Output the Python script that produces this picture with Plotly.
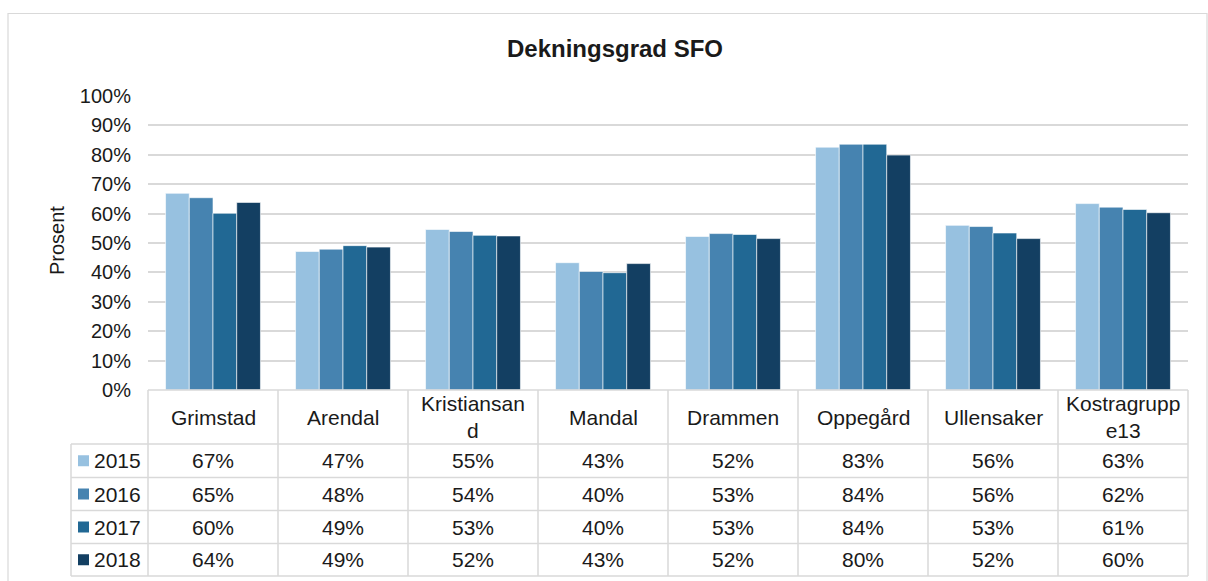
import plotly.graph_objects as go

categories = ["Grimstad", "Arendal", "Kristiansand", "Mandal", "Drammen", "Oppegård", "Ullensaker", "Kostragruppe13"]
header_labels = ["Grimstad", "Arendal", "Kristiansan<br>d", "Mandal", "Drammen", "Oppegård", "Ullensaker", "Kostragrupp<br>e13"]
years = ["2015", "2016", "2017", "2018"]
v2015 = [66.9, 47.1, 54.6, 43.3, 52.2, 82.6, 56.0, 63.4]
v2016 = [65.4, 47.9, 53.9, 40.3, 53.2, 83.6, 55.6, 62.2]
v2017 = [60.1, 49.1, 52.6, 39.9, 52.9, 83.6, 53.4, 61.4]
v2018 = [63.8, 48.6, 52.4, 43.0, 51.5, 79.9, 51.5, 60.3]
series = [v2015, v2016, v2017, v2018]
colors = ["#97C1E0", "#4683B0", "#216894", "#133F62"]
tick_vals = [0, 10, 20, 30, 40, 50, 60, 70, 80, 90, 100]
tick_labels = ["0%", "10%", "20%", "30%", "40%", "50%", "60%", "70%", "80%", "90%", "100%"]

W, H = 1208, 581
L, R, T, B = 148, 1188, 96, 390
FONT = "Liberation Sans, Arial, sans-serif"
TXT = "#1a1a1a"
GRID = "#D9D9D9"

def px(x):
    return (x - L) / (R - L)

def py(y):
    return (B - y) / (B - T)

fig = go.Figure()
for yr, vals, c in zip(years, series, colors):
    fig.add_trace(go.Bar(x=categories, y=vals, name=yr, marker=dict(color=c, line=dict(color="#ffffff", width=0.6)),
                         showlegend=False))

shapes = []
annotations = []

# outer border
shapes.append(dict(type="rect", xref="paper", yref="paper", x0=px(8), x1=px(1207), y0=py(600), y1=py(13.5),
                   line=dict(color="#D9D9D9", width=1.2), layer="below"))

# table lines
row_y = [444, 477.5, 510.5, 543.5, 576]
shapes.append(dict(type="line", xref="paper", yref="paper", x0=px(L), x1=px(R), y0=py(B), y1=py(B),
                   line=dict(color=GRID, width=1.5)))
for yv in row_y:
    shapes.append(dict(type="line", xref="paper", yref="paper", x0=px(71), x1=px(R), y0=py(yv), y1=py(yv),
                       line=dict(color=GRID, width=1.5)))
n = len(categories)
for i in range(n + 1):
    xv = L + (R - L) * i / n
    shapes.append(dict(type="line", xref="paper", yref="paper", x0=px(xv), x1=px(xv), y0=py(B), y1=py(576),
                       line=dict(color=GRID, width=1.5)))
shapes.append(dict(type="line", xref="paper", yref="paper", x0=px(71), x1=px(71), y0=py(444), y1=py(576),
                   line=dict(color=GRID, width=1.5)))

# header labels
for i, lab in enumerate(header_labels):
    annotations.append(dict(x=(i + 0.5) / n, y=py(417), xref="paper", yref="paper", text=lab, showarrow=False,
                            font=dict(family=FONT, size=21, color=TXT), xanchor="center", yanchor="middle"))

# value rows
for r, (yr, vals, c) in enumerate(zip(years, series, colors)):
    yc = (row_y[r] + row_y[r + 1]) / 2
    shapes.append(dict(type="rect", xref="paper", yref="paper", x0=px(78), x1=px(89), y0=py(yc - 5.5), y1=py(yc + 5.5),
                       fillcolor=c, line=dict(width=0)))
    annotations.append(dict(x=px(92), y=py(yc), xref="paper", yref="paper", text=yr, showarrow=False,
                            font=dict(family=FONT, size=21, color=TXT), xanchor="left", yanchor="middle"))
    for i, v in enumerate(vals):
        annotations.append(dict(x=(i + 0.5) / n, y=py(yc), xref="paper", yref="paper", text=f"{round(v)}%",
                                showarrow=False, font=dict(family=FONT, size=21, color=TXT),
                                xanchor="center", yanchor="middle"))

# title and axis title
annotations.append(dict(x=px(615), y=py(49), xref="paper", yref="paper", text="<b>Dekningsgrad SFO</b>", showarrow=False,
                        font=dict(family=FONT, size=24, color=TXT), xanchor="center", yanchor="middle"))
annotations.append(dict(x=px(57), y=py(241), xref="paper", yref="paper", text="Prosent", showarrow=False, textangle=-90,
                        font=dict(family=FONT, size=20, color=TXT), xanchor="center", yanchor="middle"))

fig.update_layout(
    width=W, height=H,
    margin=dict(l=L, r=W - R, t=T, b=H - B, pad=0),
    paper_bgcolor="white", plot_bgcolor="white",
    barmode="group", bargap=0.27, bargroupgap=0,
    xaxis=dict(showticklabels=False, showgrid=False, zeroline=False, showline=False, ticks="",
               categoryorder="array", categoryarray=categories, range=[-0.5, n - 0.5]),
    yaxis=dict(range=[0, 100], tickmode="array", tickvals=tick_vals, ticktext=tick_labels, showgrid=True,
               gridcolor=GRID, gridwidth=1.5, zeroline=False, showline=False, ticks="", ticklen=0,
               ticklabelstandoff=16, tickfont=dict(family=FONT, size=20, color=TXT)),
    shapes=shapes, annotations=annotations,
)

fig.write_html("out.html", config={"displayModeBar": False},
               post_script="document.body.style.margin='0';document.body.style.padding='0';")
